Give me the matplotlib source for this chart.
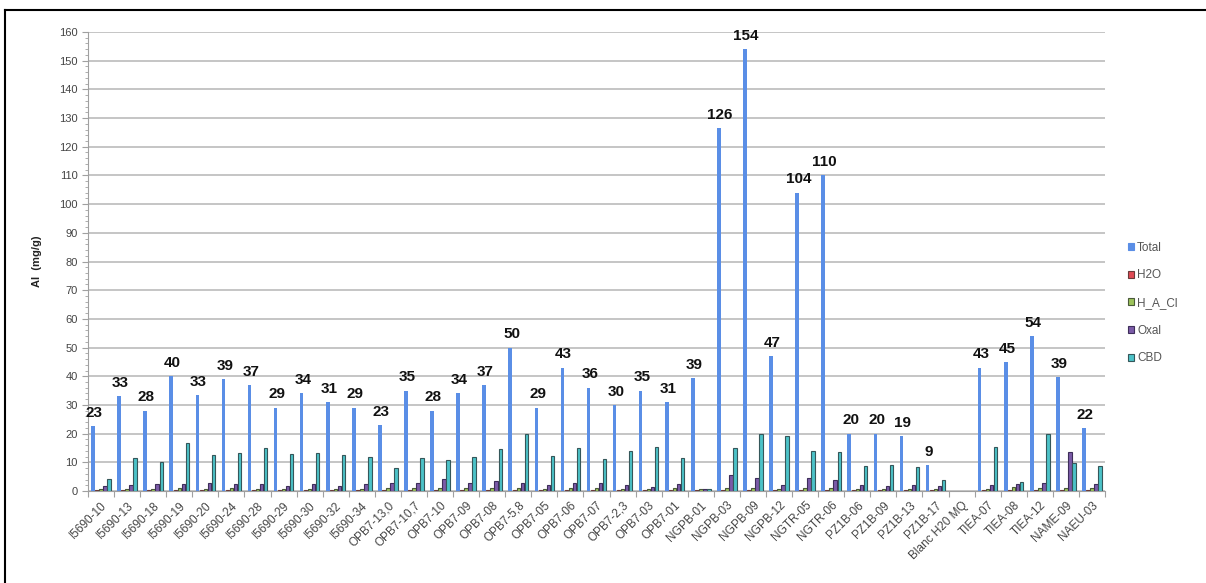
import numpy as np
import matplotlib
matplotlib.use("Agg")
import matplotlib.pyplot as plt
from matplotlib.patches import Patch
from matplotlib.lines import Line2D
from matplotlib.ticker import MultipleLocator, FixedLocator, NullFormatter

plt.rcParams['font.family'] = ['Liberation Sans', 'DejaVu Sans']

categories = ["I5690-10", "I5690-13", "I5690-18", "I5690-19", "I5690-20", "I5690-24",
              "I5690-28", "I5690-29", "I5690-30", "I5690-32", "I5690-34",
              "OPB7-13,0", "OPB7-10,7", "OPB7-10", "OPB7-09", "OPB7-08", "OPB7-5,8",
              "OPB7-05", "OPB7-06", "OPB7-07", "OPB7-2,3", "OPB7-03", "OPB7-01",
              "NGPB-01", "NGPB-03", "NGPB-09", "NGPB-12", "NGTR-05", "NGTR-06",
              "PZ1B-06", "PZ1B-09", "PZ1B-13", "PZ1B-17", "Blanc H20 MQ",
              "TIEA-07", "TIEA-08", "TIEA-12", "NAME-09", "NAEU-03"]

total = [22.6, 33, 28, 40, 33.4, 39, 37, 29, 34, 31, 29,
         23, 35, 28, 34, 37, 50, 29, 43, 36, 30, 35, 31,
         39.4, 126.4, 154, 47, 104, 110,
         20, 20, 19, 9, np.nan,
         43, 45, 54, 39.6, 22]
total_labels = ["23", "33", "28", "40", "33", "39", "37", "29", "34", "31", "29",
                "23", "35", "28", "34", "37", "50", "29", "43", "36", "30", "35", "31",
                "39", "126", "154", "47", "104", "110",
                "20", "20", "19", "9", "",
                "43", "45", "54", "39", "22"]
h2o = [0.2, 0.2, 0.2, 0.2, 0.2, 0.2, 0.2, 0.2, 0.2, 0.2, 0.2,
       0.2, 0.2, 0.2, 0.2, 0.2, 0.2, 0.2, 0.2, 0.2, 0.2, 0.2, 0.2,
       0.5, 0.2, 0.2, 0.2, 0.2, 0.2,
       0.2, 0.2, 0.2, 0.2, np.nan,
       0.2, 0.3, 0.2, 0.2, 0.2]
h_a_cl = [0.8, 0.8, 0.8, 0.9, 0.8, 0.9, 0.8, 0.8, 0.8, 0.8, 0.8,
          0.9, 0.9, 0.9, 0.9, 0.9, 0.9, 0.8, 0.9, 0.9, 0.8, 0.7, 0.9,
          0.6, 1.0, 1.0, 0.8, 1.0, 1.0,
          0.8, 0.8, 0.8, 0.8, np.nan,
          0.8, 1.5, 0.9, 1.0, 0.9]
oxal = [1.8, 2.0, 2.4, 2.4, 2.9, 2.6, 2.4, 1.8, 2.4, 1.8, 2.4,
        2.7, 2.9, 4.1, 2.9, 3.5, 2.9, 2.0, 2.7, 2.9, 2.0, 1.5, 2.4,
        0.6, 5.5, 4.4, 2.0, 4.4, 3.9,
        2.0, 1.8, 2.0, 1.8, np.nan,
        2.0, 2.6, 2.9, 13.5, 2.4]
cbd = [4.1, 11.4, 10.2, 16.7, 12.4, 13.3, 14.9, 12.8, 13.3, 12.7, 11.8,
       7.9, 11.5, 10.8, 11.8, 14.7, 20.0, 12.1, 14.9, 11.2, 14.1, 15.3, 11.4,
       0.7, 14.9, 20.0, 19.2, 14.1, 13.5,
       8.6, 9.1, 8.2, 3.9, np.nan,
       15.5, 3.2, 20.0, 9.6, 8.6]

series_names = ["Total", "H2O", "H_A_Cl", "Oxal", "CBD"]
series_vals = [total, h2o, h_a_cl, oxal, cbd]
fills = ["#5a8ee6", "#e04a55", "#9cc25a", "#7b5ba8", "#4cc2c8"]
edges = ["none", "#6a3a3a", "#4a5a3a", "#3e2e5a", "#35575a"]

fig = plt.figure(figsize=(12.06, 5.83), dpi=100)
ax = fig.add_axes([88/1206, 1-491/583, (1105-88)/1206, (491-32)/583])

x = np.arange(len(categories))
w = 1/6.5
for k, (vals, fc, ec) in enumerate(zip(series_vals, fills, edges)):
    off = (k - 2) * w
    lw = 0 if ec == "none" else 0.8
    ax.bar(x + off, vals, width=w*0.9 if k == 0 else w*0.85, color=fc,
           edgecolor=ec, linewidth=lw, zorder=3)

for i, (v, lab) in enumerate(zip(total, total_labels)):
    if lab:
        ax.text(x[i] - 2*w + 0.05, v + 2.2, lab, ha='center', va='bottom',
                fontsize=11, fontweight='bold', color='#111111', zorder=4)

ax.set_xlim(-0.5, len(categories) - 0.5)
ax.set_ylim(0, 160)
ax.yaxis.set_major_locator(MultipleLocator(10))
ax.yaxis.set_minor_locator(MultipleLocator(2))
ax.grid(axis='y', which='major', color='#c0c0c0', linewidth=1.3, zorder=0)
ax.set_axisbelow(True)
for s in ['top', 'right']:
    ax.spines[s].set_visible(False)
ax.spines['left'].set_color('#a0a0a0')
ax.spines['bottom'].set_color('#a0a0a0')
ax.tick_params(axis='y', which='major', colors='#a0a0a0', labelcolor='#444444',
               labelsize=8, length=4)
ax.tick_params(axis='y', which='minor', colors='#a0a0a0', length=2)

ax.xaxis.set_major_locator(FixedLocator(np.arange(len(categories) + 1) - 0.5))
ax.xaxis.set_major_formatter(NullFormatter())
ax.set_xticks(x, minor=True)
ax.set_xticklabels(categories, minor=True, rotation=45, ha='right',
                   rotation_mode='anchor', fontsize=8.5, color='#444444')
ax.tick_params(axis='x', which='major', colors='#a0a0a0', length=4)
ax.tick_params(axis='x', which='minor', length=0, pad=6)

ax.set_ylabel("Al  (mg/g)", fontsize=8, fontweight='bold', color='#222222', labelpad=12)

handles = [Patch(facecolor=fc, edgecolor=(ec if ec != "none" else fc), linewidth=0.8)
           for fc, ec in zip(fills, edges)]
fig.legend(handles, series_names, loc='upper left',
           bbox_to_anchor=(1117/1206, 1-231/583), frameon=False,
           fontsize=8.5, labelcolor='#555555', handlelength=0.5, handleheight=0.5,
           handletextpad=0.3, labelspacing=1.33)

fig.add_artist(Line2D([5/1206, 1.0], [1-10/583, 1-10/583], color='black',
                      linewidth=1.5, transform=fig.transFigure))
fig.add_artist(Line2D([5/1206, 5/1206], [0, 1-10/583], color='black',
                      linewidth=1.5, transform=fig.transFigure))

fig.savefig("out.png", dpi=100)
